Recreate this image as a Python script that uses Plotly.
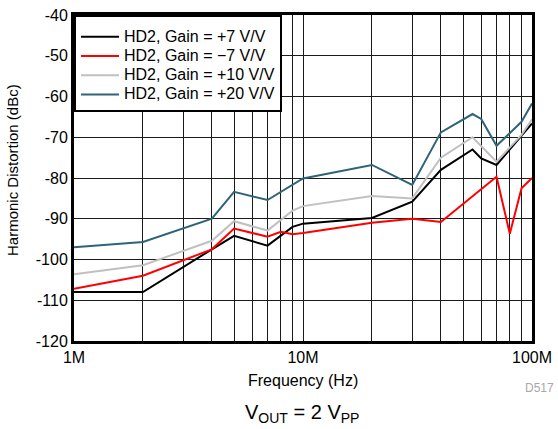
import plotly.graph_objects as go

# Frequencies in MHz and HD2 in dBc
f_p7 = [1, 2, 4, 5, 7, 9, 10, 20, 30, 40, 55, 60, 70, 90, 100]
hd_p7 = [-108, -108, -97.5, -94.2, -96.6, -92, -91.2, -89.8, -85.8, -78, -73, -75.2, -76.8, -69.6, -66.6]

f_m7 = [1, 2, 4, 5, 7, 8, 9, 10, 20, 30, 40, 70, 80, 90, 100]
hd_m7 = [-107.2, -104, -97.5, -92.4, -94.4, -93.2, -93.8, -93.5, -91, -90, -90.8, -79.7, -93.7, -82.5, -80]

f_p10 = [1, 2, 4, 5, 7, 9, 10, 20, 30, 40, 55, 70, 90, 100]
hd_p10 = [-103.6, -101.4, -95.4, -90.6, -92.9, -88, -86.9, -84.4, -85, -75, -70, -76, -69.4, -65.6]

f_p20 = [1, 2, 4, 5, 7, 10, 20, 30, 40, 55, 60, 70, 90, 100]
hd_p20 = [-97, -95.7, -90, -83.4, -85.4, -80.1, -76.8, -81.7, -68.8, -64.3, -65.5, -72.1, -66.2, -61.7]

names = ["HD2, Gain = +7 V/V", "HD2, Gain = \u22127 V/V", "HD2, Gain = +10 V/V", "HD2, Gain = +20 V/V"]
colors = ["#000000", "#ff0000", "#c0c0c0", "#2f6378"]

x_major = [1e6, 1e7, 1e8]
x_major_text = ["1M", "10M", "100M"]
x_minor = [k * 10 ** e for e in (6, 7) for k in range(2, 10)]
y_ticks = [-40, -50, -60, -70, -80, -90, -100, -110, -120]
y_text = [str(v) for v in y_ticks]

FONT = "Liberation Sans, Arial, sans-serif"

fig = go.Figure()
for f, hd, n, c in zip([f_p7, f_m7, f_p10, f_p20], [hd_p7, hd_m7, hd_p10, hd_p20], names, colors):
    # legend font is small (tight rows); the label itself is shown at 16px
    fig.add_trace(go.Scatter(x=[v * 1e6 for v in f], y=hd, mode="lines",
                             name='<span style="font-size:16px">' + n + "</span>",
                             line=dict(color=c, width=2)))

fig.update_layout(
    width=558, height=429,
    margin=dict(l=74, r=26, t=15, b=88, autoexpand=False),
    paper_bgcolor="white", plot_bgcolor="white",
    font=dict(family=FONT, size=16, color="black"),
    showlegend=True,
    legend=dict(x=0, y=1, xanchor="left", yanchor="top",
                bgcolor="white", bordercolor="black", borderwidth=2,
                font=dict(family=FONT, size=12.5, color="black"),
                title=dict(text="\u00a0", side="top", font=dict(size=4)),
                itemwidth=38, tracegroupgap=0),
)

# annotations placed in window pixels, converted to paper coordinates
plot_l, plot_r, plot_t, plot_b = 74, 532, 15, 341
W, H = plot_r - plot_l, plot_b - plot_t
ann_specs = [
    ("Frequency (Hz)", 303, 380, 0, "center", 16, "black"),
    ("Harmonic Distortion (dBc)", 12, 170, -90, "center", 15, "black"),
    ("D517", 556, 388, 0, "right", 12, "#a8a8a8"),
    ("V<sub>OUT</sub> = 2 V<sub>PP</sub>", 302, 413, 0, "center", 20, "black"),
]
for text, px, py, ang, xa, fs, col in ann_specs:
    fig.add_annotation(text=text, x=(px - plot_l) / W, y=(plot_b - py) / H,
                       xref="paper", yref="paper", textangle=ang,
                       xanchor=xa, yanchor="middle", showarrow=False,
                       font=dict(family=FONT, size=fs, color=col))

fig.update_xaxes(
    type="log", range=[6, 8], automargin=False,
    tickmode="array", tickvals=x_major, ticktext=x_major_text,
    ticks="", showgrid=True, gridcolor="#1a1a1a", gridwidth=1,
    minor=dict(tickmode="array", tickvals=x_minor, showgrid=True, gridcolor="#1a1a1a", gridwidth=1, ticks=""),
    showline=True, linecolor="black", linewidth=3, mirror=True,
    zeroline=False, ticklabeloverflow="allow",
    tickfont=dict(family=FONT, size=16),
)
fig.update_yaxes(
    range=[-120, -40], automargin=False,
    tickmode="array", tickvals=y_ticks, ticktext=y_text,
    ticks="", showgrid=True, gridcolor="#1a1a1a", gridwidth=1,
    showline=True, linecolor="black", linewidth=3, mirror=True,
    zeroline=False, ticklabeloverflow="allow",
    tickfont=dict(family=FONT, size=16),
)

# remove the default 8px page margin so the figure fills the window exactly
fig.write_html("out.html", config={"displayModeBar": False},
               post_script="document.body.style.margin='0';document.body.style.overflow='hidden';")
